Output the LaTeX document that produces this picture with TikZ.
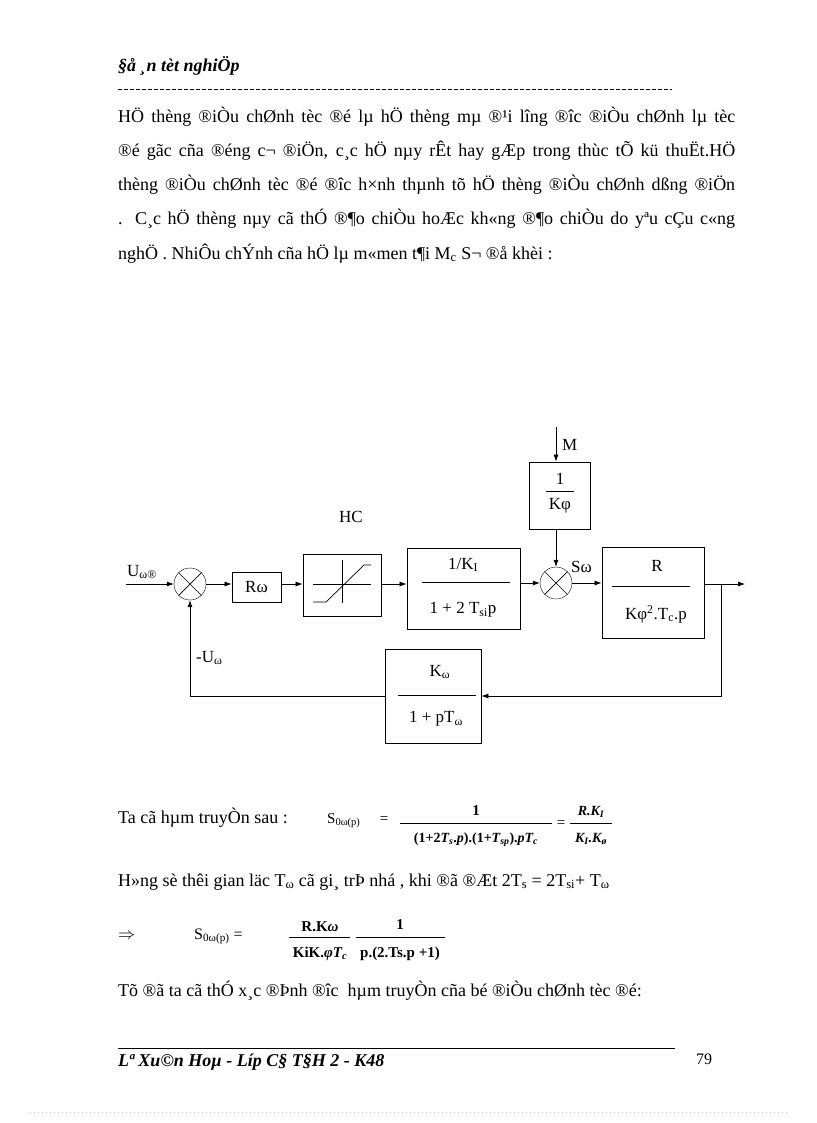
\documentclass[tikz,border=0pt]{standalone}
\usepackage{fontspec}
\setmainfont{Liberation Serif}
\usetikzlibrary{arrows.meta}
\begin{document}
\begin{tikzpicture}[x=1pt,y=-1pt,
  txt/.style={anchor=base west,inner sep=0pt,font=\fontsize{18}{20}\selectfont},
  lbl/.style={inner sep=0pt,font=\fontsize{17}{20}\selectfont},
  blk/.style={draw,line width=0.8pt},
  sumj/.style={draw,circle,minimum size=32pt,inner sep=0pt},
  sig/.style={-{Latex[length=7pt,width=5pt]},line width=0.7pt},
  ln/.style={line width=0.7pt},
  fml/.style={inner sep=0pt,font=\fontsize{15}{17}\selectfont}]
\useasboundingbox (0,0) rectangle (816,1123);
% header
\node[txt,font=\fontsize{18}{20}\selectfont\bfseries\itshape] (hdr) at (118,72) {§å ¸n tèt nghiÖp};
\draw[line width=0.4pt,dash pattern=on 4pt off 2pt] (118,89) -- (672,89);
% paragraph
\node[txt] (p1) at (118,123) {\makebox[617pt][s]{HÖ thèng ®iÒu chØnh tèc ®é lµ hÖ thèng mµ ®¹i l­îng ®­îc ®iÒu chØnh lµ tèc}};
\node[txt] (p2) at (118,157) {\makebox[617pt][s]{®é gãc cña ®éng c¬ ®iÖn, c¸c hÖ nµy rÊt hay gÆp trong thùc tÕ kü thuËt.HÖ}};
\node[txt] (p3) at (118,191) {\makebox[617pt][s]{thèng ®iÒu chØnh tèc ®é ®­îc h×nh thµnh tõ hÖ thèng ®iÒu chØnh dßng ®iÖn}};
\node[txt] (p4) at (118,225) {\makebox[617pt][s]{. C¸c hÖ thèng nµy cã thÓ ®¶o chiÒu hoÆc kh«ng ®¶o chiÒu do yªu cÇu c«ng}};
\node[txt] (p5) at (118,259) {nghÖ . NhiÔu chÝnh cña hÖ lµ m«men t¶i M\textsubscript{c} S¬ ®å khèi :};
% diagram
\coordinate (in) at (126,584);
\node[sumj] (s1) at (190,584) {};
\draw[ln] (s1.north west) -- (s1.south east) (s1.north east) -- (s1.south west);
\node[blk,minimum width=49pt,minimum height=30pt] (rw) at (256.5,587) {};
\node[lbl] at (rw) {Rω};
\node[blk,minimum width=78pt,minimum height=62pt] (hc) at (342,585.5) {};
\node[lbl] (hcl) at (351,517) {HC};
\draw[ln] (313,584) -- (371,584) (342,560) -- (342,603);
\draw[ln] (313,602) -- (326,602) -- (364,565) -- (371,565);
\node[blk,minimum width=113pt,minimum height=81pt] (ki) at (463.5,588.5) {};
\node[lbl] at (463,565) {1/K\textsubscript{I}};
\draw[ln] (422,582) -- (510,582);
\node[lbl] at (463,610) {1 + 2 T\textsubscript{si}p};
\node[sumj] (s2) at (556,583) {};
\draw[ln] (s2.north west) -- (s2.south east) (s2.north east) -- (s2.south west);
\node[blk,minimum width=61pt,minimum height=67pt] (kf) at (559.5,495.5) {};
\node[lbl] at (560,479) {1};
\draw[ln] (546,491) -- (574,491);
\node[lbl] at (560,506) {Kφ};
\coordinate (mtop) at (556,427);
\node[lbl,anchor=west] (ml) at (562,445) {M};
\node[lbl,anchor=west] (swl) at (571,567) {Sω};
\node[blk,minimum width=102pt,minimum height=91pt] (rb) at (653,592.5) {};
\node[lbl] at (657,566) {R};
\draw[ln] (612,586) -- (690,586);
\node[lbl] at (656,614) {Kφ\textsuperscript{2}.T\textsubscript{c}.p};
\coordinate (out) at (745,584);
\coordinate (br) at (721,584);
\node[blk,minimum width=96pt,minimum height=94pt] (fb) at (433,696) {};
\node[lbl] at (440,672) {K\textsubscript{ω}};
\draw[ln] (398,695) -- (476,695);
\node[lbl] at (436,719) {1 + pT\textsubscript{ω}};
\node[lbl,anchor=west] (ul) at (127,572) {U\textsubscript{ω®}};
\node[lbl,anchor=west] (mul) at (196,658) {-U\textsubscript{ω}};
\draw[sig] (in) -- (s1.west);
\draw[sig] (s1.east) -- (rw.west |- s1.east);
\draw[sig] (rw.east |- s1.east) -- (hc.west |- s1.east);
\draw[sig] (hc.east |- s1.east) -- (ki.west |- s1.east);
\draw[sig] (ki.east |- s2.west) -- (s2.west);
\draw[sig] (s2.east) -- (rb.west |- s2.east);
\draw[sig] (kf.south -| s2.north) -- (s2.north);
\draw[sig] (mtop) -- (kf.north -| mtop);
\draw[sig] (rb.east |- out) -- (out);
\draw[sig] (br) -- (br |- fb.east) -- (fb.east);
\draw[sig] (fb.west) -- (s1.south |- fb.west) -- (s1.south);
% formulas
\node[txt] (f1) at (118,823) {Ta cã hµm truyÒn sau :};
\node[fml,anchor=base west] (s0a) at (327,823) {S\textsubscript{0ω(p)}};
\node[fml,anchor=base] (eqa) at (384,823) {=};
\node[fml,anchor=base,font=\fontsize{15}{17}\selectfont\bfseries] (n1) at (476,815) {1};
\draw[line width=0.7pt] (400,823) -- (552,823);
\node[fml,anchor=base,font=\fontsize{14}{17}\selectfont\bfseries] (d1) at (476,842) {(1+2\textit{T\textsubscript{s}}.\textit{p}).(1+\textit{T\textsubscript{sp}}).\textit{pT\textsubscript{c}}};
\node[fml,anchor=base] (eqb) at (561,827) {=};
\draw[line width=0.7pt] (570,823) -- (612,823);
\node[fml,anchor=base,font=\fontsize{14}{17}\selectfont\bfseries\itshape] (n2) at (591,815) {R.K\textsubscript{I}};
\node[fml,anchor=base,font=\fontsize{14}{17}\selectfont\bfseries\itshape] (d2) at (591,842) {K\textsubscript{I}.K\textsubscript{ø}};
\node[txt] (f2) at (118,886) {H»ng sè thêi gian läc T\textsubscript{ω} cã gi¸ trÞ nhá , khi ®ã ®Æt 2T\textsubscript{s} = 2T\textsubscript{si}+ T\textsubscript{ω}};
\node[fml,anchor=base west,font=\fontsize{17}{18}\selectfont] (impl) at (118,939) {$\Rightarrow$};
\node[fml,anchor=base west,font=\fontsize{16}{18}\selectfont] (s0b) at (194,939) {S\textsubscript{0ω(p)} =};
\draw[line width=0.7pt] (289,937) -- (350,937);
\node[fml,anchor=base,font=\fontsize{15}{17}\selectfont\bfseries] (n3) at (320,931) {R.K\textit{ω}};
\node[fml,anchor=base,font=\fontsize{15}{17}\selectfont\bfseries] (d3) at (320,957) {KiK.\textit{φT\textsubscript{c}}};
\draw[line width=0.7pt] (356,937) -- (445,937);
\node[fml,anchor=base,font=\fontsize{15}{17}\selectfont\bfseries] (n4) at (400,929) {1};
\node[fml,anchor=base,font=\fontsize{15}{17}\selectfont\bfseries] (d4) at (400,957) {p.(2.Ts.p +1)};
\node[txt] (f3) at (118,996) {Tõ ®ã ta cã thÓ x¸c ®Þnh ®­îc\ \ hµm truyÒn cña bé ®iÒu chØnh tèc ®é:};
% footer
\draw[line width=1pt] (118,1048) -- (675,1048);
\node[txt,font=\fontsize{18}{20}\selectfont\bfseries\itshape] (ftr) at (118,1066) {Lª Xu©n Hoµ - Líp C§ T§H 2 - K48};
\node[txt,font=\fontsize{16}{18}\selectfont] (pg) at (696,1064) {79};
\draw[gray!50,line width=0.5pt,dash pattern=on 1pt off 3pt] (30,1112) -- (790,1112);
\end{tikzpicture}
\end{document}
